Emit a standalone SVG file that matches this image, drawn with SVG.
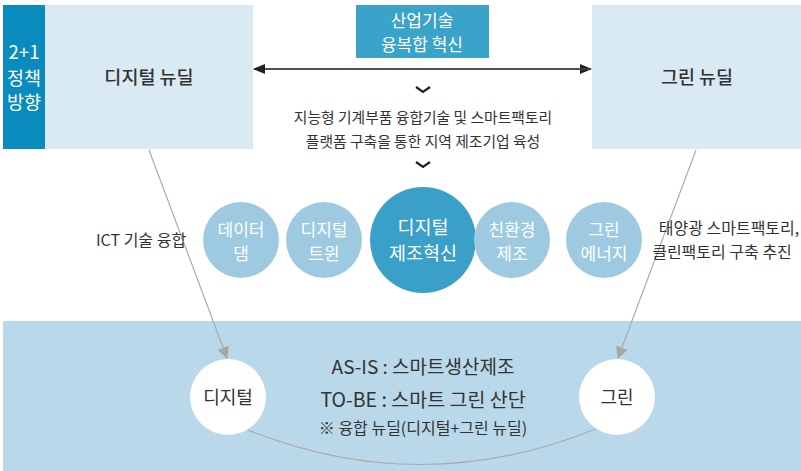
<svg xmlns="http://www.w3.org/2000/svg" width="801" height="471" viewBox="0 0 801 471">
<style>
text{font-family:"Noto Sans CJK KR","Noto Sans",sans-serif;text-anchor:middle;fill:#333}
.w{fill:#fff}
.ttl{font-size:18.5px;font-weight:500}
.t18{font-size:18px}
.t17{font-size:17px}
.t19{font-size:19px}
.t15{font-size:14.8px}
.t16{font-size:16px}
.sc{fill:#9ecae1}
.conn{stroke:#aaaaaa;stroke-width:1.2;fill:none}
</style>
<defs>
<marker id="ah" markerWidth="12" markerHeight="10" refX="11" refY="5" orient="auto" markerUnits="userSpaceOnUse"><path d="M0,0 L12,5 L0,10 Z" fill="#222"/></marker>
<marker id="ag" markerWidth="12" markerHeight="12" refX="11" refY="6" orient="auto" markerUnits="userSpaceOnUse"><path d="M0,0 L12,6 L0,12 Z" fill="#a6a6a6"/></marker>
</defs>
<rect x="3" y="321" width="798" height="150" fill="#b9d8e9"/>
<g id="policy">
<rect x="3" y="5" width="42" height="144" fill="#0a8bbd"/>
<text class="w" style="font-size:18.5px" x="24" y="59">2+1<tspan x="24" dy="26">정책</tspan><tspan x="24" dy="24">방향</tspan></text>
</g>
<g id="digital-newdeal">
<rect x="45" y="5" width="208" height="144" fill="#daeaf3"/>
<text class="ttl" x="149" y="84">디지털 뉴딜</text>
</g>
<g id="green-newdeal">
<rect x="592" y="5" width="209" height="144" fill="#daeaf3"/>
<text class="ttl" x="697" y="84">그린 뉴딜</text>
</g>
<g id="industry">
<rect x="356" y="5" width="133" height="53" fill="#3aa3c9"/>
<text class="w t17" x="422" y="27">산업기술<tspan x="422" dy="24">융복합 혁신</tspan></text>
</g>
<g id="goal">
<path d="M416,87 L423,92 L430,87" fill="none" stroke="#222" stroke-width="2.2"/>
<text class="t15" x="423" y="123">지능형 기계부품 융합기술 및 스마트팩토리<tspan x="423" dy="24">플랫폼 구축을 통한 지역 제조기업 육성</tspan></text>
<path d="M416,162 L423,167 L430,162" fill="none" stroke="#222" stroke-width="2.2"/>
</g>
<g id="connectors">
<line x1="256" y1="69" x2="591" y2="69" stroke="#444" stroke-width="1.3" marker-end="url(#ah)"/>
<line x1="591" y1="69" x2="254" y2="69" stroke="#444" stroke-width="1.3" marker-end="url(#ah)"/>
<line class="conn" x1="149" y1="150" x2="227" y2="358" marker-end="url(#ag)"/>
<line class="conn" x1="696" y1="150" x2="618" y2="358" marker-end="url(#ag)"/>
<path class="conn" d="M248,430 Q423,500 598,428"/>
</g>
<g id="ict-label"><text class="t16" x="141" y="246">ICT 기술 융합</text></g>
<g id="green-label">
<text class="t16" x="729" y="234">태양광 스마트팩토리,<tspan x="722" dy="24">클린팩토리 구축 추진</tspan></text>
</g>
<g id="data-dam"><circle class="sc" cx="241" cy="240" r="38"/><text class="w t17" x="241" y="236">데이터<tspan x="241" dy="24">댐</tspan></text></g>
<g id="digital-twin"><circle class="sc" cx="324" cy="240" r="38"/><text class="w t17" x="324" y="236">디지털<tspan x="324" dy="24">트윈</tspan></text></g>
<g id="digital-mfg"><circle cx="423" cy="240" r="53" fill="#3aa0c8"/><text class="w" style="font-size:18.5px" x="423" y="234">디지털<tspan x="423" dy="26">제조혁신</tspan></text></g>
<g id="eco-mfg"><circle class="sc" cx="512" cy="240" r="38"/><text class="w t17" x="512" y="236">친환경<tspan x="512" dy="24">제조</tspan></text></g>
<g id="green-energy"><circle class="sc" cx="604" cy="240" r="38"/><text class="w t17" x="604" y="236">그린<tspan x="604" dy="24">에너지</tspan></text></g>
<g id="digital-node"><circle cx="228" cy="397" r="38" fill="#fff"/><text class="t18" x="228" y="404">디지털</text></g>
<g id="green-node"><circle cx="617" cy="397" r="38" fill="#fff"/><text class="t18" x="617" y="404">그린</text></g>
<g id="summary">
<text class="t19" x="423" y="374">AS-IS : 스마트생산제조<tspan x="423" dy="33" style="font-size:19.5px">TO-BE : 스마트 그린 산단</tspan><tspan x="423" dy="27" style="font-size:16px">※ 융합 뉴딜(디지털+그린 뉴딜)</tspan></text>
</g>
</svg>
